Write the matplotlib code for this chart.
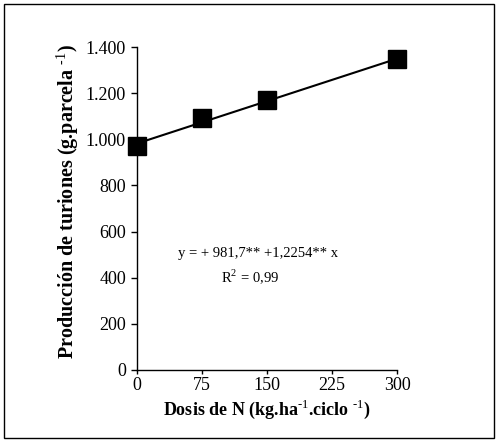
import numpy as np
import matplotlib.pyplot as plt
from matplotlib.patches import Rectangle

# dados
dosis = [0, 75, 150, 300]
produccion = [972, 1092, 1170, 1348]
b0, b1 = 981.7, 1.2254
x_ticks = [0, 75, 150, 225, 300]
y_ticks = [0, 200, 400, 600, 800, 1000, 1200, 1400]
y_labels = ['0', '200', '400', '600', '800', '1.000', '1.200', '1.400']

plt.rcParams['font.family'] = ['Liberation Serif', 'DejaVu Serif']
plt.rcParams['mathtext.fontset'] = 'custom'
plt.rcParams['mathtext.rm'] = 'Liberation Serif'
plt.rcParams['mathtext.bf'] = 'Liberation Serif:bold'

fig = plt.figure(figsize=(4.98, 4.42), dpi=100)
ax = fig.add_axes([137 / 498, 1 - 370 / 442, (397 - 137) / 498, (370 - 47) / 442])

# linha de regressão
xl = np.array([dosis[0], dosis[-1]])
ax.plot(xl, b0 + b1 * xl, color='black', lw=1.5, zorder=2)
ax.plot(dosis, produccion, 's', color='black', ms=13, zorder=3, clip_on=False)

ax.set_xlim(0, 300)
ax.set_ylim(0, 1400)
ax.set_xticks(x_ticks)
ax.set_yticks(y_ticks)
ax.set_yticklabels(y_labels)
ax.tick_params(axis='x', direction='out', length=3, width=1, labelsize=13, pad=2)
ax.tick_params(axis='y', direction='out', length=4, width=1, labelsize=13, pad=4)
ax.spines['top'].set_visible(False)
ax.spines['right'].set_visible(False)
for s in ['left', 'bottom']:
    ax.spines[s].set_linewidth(1)

sup = r'$^{\mathbf{\text{-1}}}$'
ax.set_xlabel('Dosis de N (kg.ha' + sup + '.ciclo ' + sup + ')', fontsize=13,
              fontweight='bold', labelpad=3)
ax.set_ylabel('Producción de turiones (g.parcela ' + sup + ')', fontsize=14.5,
              fontweight='bold', labelpad=4)
ax.yaxis.set_label_coords(-0.215, 0.52)

ax.text(140, 503, 'y = + 981,7** +1,2254** x', fontsize=10.5, ha='center', va='center')
ax.text(131, 407, r'R$^2$ = 0,99', fontsize=10.5, ha='center', va='center')

# moldura externa
fig.patches.append(Rectangle((4 / 498, 4 / 442), 490 / 498, 434 / 442, transform=fig.transFigure,
                             fill=False, edgecolor='black', lw=1))

fig.savefig('out.png', dpi=100)
